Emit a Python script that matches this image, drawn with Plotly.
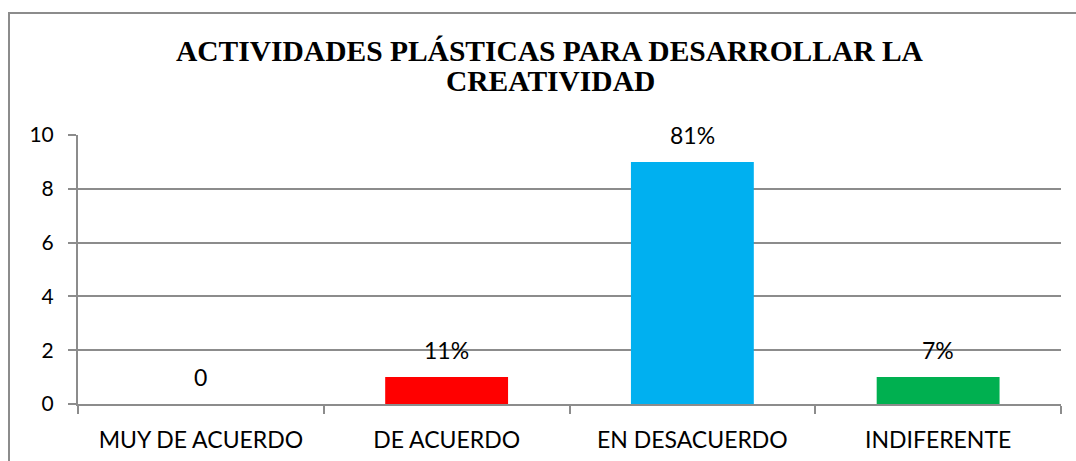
import plotly.graph_objects as go

categories = ["MUY DE ACUERDO", "DE ACUERDO", "EN DESACUERDO", "INDIFERENTE"]
values = [0, 1, 9, 1]
labels = ["0", "11%", "81%", "7%"]
colors = ["#4F81BD", "#FF0000", "#00B0F0", "#00B050"]
title_lines = ["ACTIVIDADES PLÁSTICAS PARA DESARROLLAR LA", "CREATIVIDAD"]
y_ticks = [0, 2, 4, 6, 8, 10]

W, H = 1076, 461
L, R, T, B = 78, 15, 135, 57
pw, ph = W - L - R, H - T - B

def px(x):
    return (x - L) / pw

def py(y):
    return (H - B - y) / ph

xs = list(range(len(categories)))
GRID = "#8C8C8C"
FONT = "Lato"

fig = go.Figure()
fig.add_trace(go.Bar(x=xs, y=values, marker=dict(color=colors, line=dict(width=0)),
                     width=0.5, hoverinfo="skip"))

for x, v, t in zip(xs, values, labels):
    fig.add_annotation(x=x, y=v, text=t, showarrow=False, yshift=27, yanchor="middle",
                       font=dict(family=FONT, size=23, color="#000000"))

title_y = [51, 81]
for line, yy in zip(title_lines, title_y):
    fig.add_annotation(xref="paper", yref="paper", x=px(550), y=py(yy), text="<b>" + line + "</b>",
                       showarrow=False, xanchor="center", yanchor="middle",
                       font=dict(family="Liberation Serif", size=29.5, color="#000000"))

fig.add_shape(type="rect", xref="paper", yref="paper",
              x0=px(9), y0=py(480), x1=px(1090), y1=py(13),
              line=dict(color="#8C8C8C", width=2), fillcolor="rgba(0,0,0,0)", layer="below")

fig.update_layout(
    width=W, height=H,
    margin=dict(l=L, r=R, t=T, b=B, pad=0, autoexpand=False),
    paper_bgcolor="white", plot_bgcolor="white",
    showlegend=False,
    bargap=0.5,
    font=dict(family=FONT, size=21, color="#000000"),
)
fig.update_xaxes(
    automargin=False,
    range=[-0.5, len(categories) - 0.5],
    tickvals=xs, ticktext=categories, ticks="",
    showgrid=False, zeroline=False,
    showline=True, linecolor=GRID, linewidth=2,
    ticklabelstandoff=14,
    minor=dict(tick0=-0.5, dtick=1, ticks="outside", ticklen=8, tickcolor=GRID, tickwidth=2, showgrid=False),
    tickfont=dict(family=FONT, size=23, color="#000000"),
)
fig.update_yaxes(
    automargin=False,
    range=[0, 10], tickvals=y_ticks,
    ticks="outside", ticklen=8, tickcolor=GRID, tickwidth=2,
    showgrid=True, gridcolor=GRID, gridwidth=2,
    zeroline=False, showline=True, linecolor=GRID, linewidth=2,
    ticklabelstandoff=10,
    tickfont=dict(family=FONT, size=21, color="#000000"),
)

fig.write_html("out.html", config={"displayModeBar": False},
               post_script="document.body.style.margin='0';document.body.style.overflow='hidden';")
